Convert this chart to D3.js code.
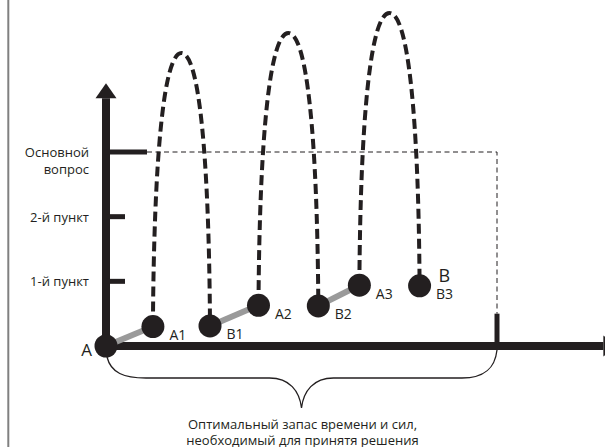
<!DOCTYPE html>
<html>
<head>
<meta charset="utf-8">
<script src="https://cdn.jsdelivr.net/npm/d3@7"></script>
<style>
  html, body { margin: 0; padding: 0; background: #fff; }
  svg { display: block; }
  text { font-family: "Open Sans", "Noto Sans", sans-serif; fill: #231f20; }
</style>
</head>
<body>
<svg id="chart" width="605" height="447"></svg>
<script>
// ---- Data ----
const tickLevels = [1, 2, 3];
const tickLabels = ["1-й пункт", "2-й пункт", "Основной вопрос"];
const originName = "A";
const finalName = "B";
const pointNames = ["A1", "B1", "A2", "B2", "A3", "B3"];
const pointX = [12, 26.6, 39, 54.3, 64.8, 80.2];
const pointY = [0.30, 0.31, 0.63, 0.62, 0.94, 0.93];
const arcPeaks = [4.53, 4.84, 5.15];          // height of each jump A_i -> B_i
const optimalX = 100;                          // optimal reserve end
const optimalMark = 0.5;                       // height of the solid mark at optimal end
const captionLines = ["Оптимальный запас времени и сил,", "необходимый для принятя решения"];

// ---- Setup ----
const svg = d3.select("#chart");
const ink = "#231f20";
const x = d3.scaleLinear().domain([0, 100]).range([106, 497]);
const y = d3.scaleLinear().domain([0, 3]).range([346, 152]);
const xEnd = 127.2, yEnd = 3.83;

// left border line
svg.append("line").attr("x1", 8.3).attr("x2", 8.3).attr("y1", 0).attr("y2", 447)
  .attr("stroke", "#808080").attr("stroke-width", 2);

// thin dashed frame: main question level to optimal end
svg.append("path")
  .attr("d", d3.line()([[x(0) + 41, y(3)], [x(optimalX), y(3)], [x(optimalX), y(optimalMark)]]))
  .attr("fill", "none").attr("stroke", ink).attr("stroke-width", 1)
  .attr("stroke-dasharray", "5,3.5");

// solid mark at optimal end
svg.append("line").attr("x1", x(optimalX)).attr("x2", x(optimalX))
  .attr("y1", y(optimalMark)).attr("y2", y(0))
  .attr("stroke", ink).attr("stroke-width", 5);

// Axes
svg.append("line").attr("x1", x(0)).attr("x2", x(0)).attr("y1", y(0)).attr("y2", y(yEnd))
  .attr("stroke", ink).attr("stroke-width", 8);
svg.append("path")
  .attr("d", `M${x(0)},${y(yEnd) - 15} L${x(0) + 10.5},${y(yEnd)} L${x(0) - 10.5},${y(yEnd)} Z`)
  .attr("fill", ink);
svg.append("line").attr("x1", x(0)).attr("x2", x(xEnd)).attr("y1", y(0)).attr("y2", y(0))
  .attr("stroke", ink).attr("stroke-width", 8);
svg.append("path")
  .attr("d", `M${x(xEnd) + 15},${y(0)} L${x(xEnd)},${y(0) - 10.5} L${x(xEnd)},${y(0) + 10.5} Z`)
  .attr("fill", ink);

// y ticks
svg.selectAll(".tick").data(tickLevels).join("line")
  .attr("x1", x(0)).attr("x2", (d, i) => i === tickLevels.length - 1 ? x(0) + 41 : x(0) + 19)
  .attr("y1", d => y(d)).attr("y2", d => y(d))
  .attr("stroke", ink).attr("stroke-width", 5);

// y tick labels
tickLabels.forEach((lab, i) => {
  const words = i === tickLabels.length - 1 ? lab.split(" ") : [lab];
  const t = svg.append("text").attr("text-anchor", "end").attr("font-size", 13)
    .attr("x", x(0) - 17).attr("y", y(tickLevels[i]) + 5);
  words.forEach((w, j) => t.append("tspan").attr("x", x(0) - 17).attr("dy", j === 0 ? 0 : 16.5).text(w));
});

// points (start with origin)
const pts = [[0, 0]].concat(pointX.map((d, i) => [d, pointY[i]]));

// gray moves: A->A1, B1->A2, B2->A3
const moves = [[0, 1], [2, 3], [4, 5]];
svg.selectAll(".move").data(moves).join("line")
  .attr("x1", d => x(pts[d[0]][0])).attr("y1", d => y(pts[d[0]][1]))
  .attr("x2", d => x(pts[d[1]][0])).attr("y2", d => y(pts[d[1]][1]))
  .attr("stroke", "#9a9a9a").attr("stroke-width", 6);

// dashed jumps A_i -> B_i (rounded, ellipse-like arcs)
const jumps = arcPeaks.map((p, i) => ({ a: pts[1 + 2 * i], b: pts[2 + 2 * i], peak: p }));
const k = 0.62;
svg.selectAll(".jump").data(jumps).join("path")
  .attr("d", d => {
    const x0 = x(d.a[0]), y0 = y(d.a[1]), x1 = x(d.b[0]), y1 = y(d.b[1]);
    const xm = (x0 + x1) / 2, yp = y(d.peak);
    const p = d3.path();
    p.moveTo(x0, y0);
    p.bezierCurveTo(x0 + 1, y0 - k * (y0 - yp), xm - k * (xm - x0), yp, xm, yp);
    p.bezierCurveTo(xm + k * (x1 - xm), yp, x1 - 1, y1 - k * (y1 - yp), x1, y1);
    return p.toString();
  })
  .attr("fill", "none").attr("stroke", ink).attr("stroke-width", 4)
  .attr("stroke-dasharray", "10,5");

// circles
svg.selectAll(".pt").data(pts).join("circle")
  .attr("cx", d => x(d[0])).attr("cy", d => y(d[1])).attr("r", 11.5)
  .attr("fill", ink);

// point labels
svg.selectAll(".plab").data(pointNames).join("text")
  .attr("x", (d, i) => x(pointX[i]) + 16.5).attr("y", (d, i) => y(pointY[i]) + 13.5)
  .attr("font-size", 14).text(d => d);
svg.append("text").attr("x", x(0) - 14).attr("y", y(0) + 10).attr("text-anchor", "end")
  .attr("font-size", 17).text(originName);
const last = pointX.length - 1;
svg.append("text").attr("x", x(pointX[last]) + 19).attr("y", y(pointY[last]) - 4)
  .attr("font-size", 18).text(finalName);

// brace under x axis
const xL = x(0), xR = x(optimalX), xM = (xL + xR) / 2, yb = y(0);
const bp = d3.path();
bp.moveTo(xL + 1, yb + 11);
bp.bezierCurveTo(xL + 5, yb + 27, xL + 18, yb + 32, xL + 40, yb + 32);
bp.lineTo(xM - 32, yb + 32);
bp.bezierCurveTo(xM - 12, yb + 32, xM - 2, yb + 45, xM, yb + 62);
bp.bezierCurveTo(xM + 2, yb + 45, xM + 12, yb + 32, xM + 32, yb + 32);
bp.lineTo(xR - 35, yb + 32);
bp.bezierCurveTo(xR - 12, yb + 32, xR - 2, yb + 22, xR, yb + 4);
svg.append("path").attr("d", bp.toString()).attr("fill", "none")
  .attr("stroke", ink).attr("stroke-width", 1.3);

// caption
svg.selectAll(".cap").data(captionLines).join("text")
  .attr("x", xM + 1).attr("y", (d, i) => 429 + i * 15.5).attr("text-anchor", "middle")
  .attr("font-size", 13).text(d => d);
</script>
</body>
</html>
